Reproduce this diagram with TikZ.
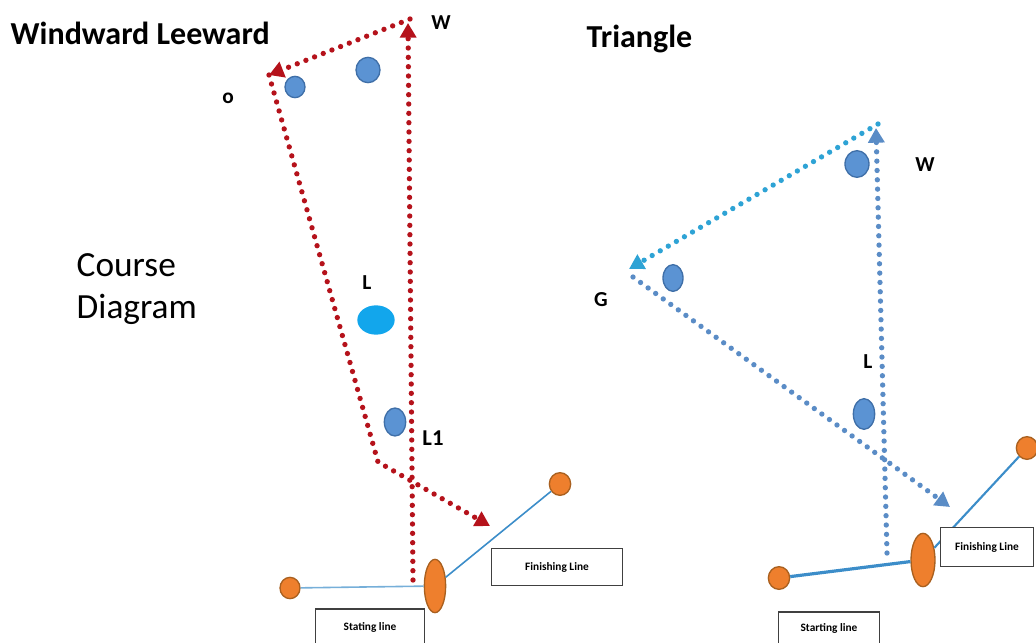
\documentclass[tikz,border=0pt]{standalone}
\usepackage{fontspec}
\setmainfont{Carlito}
\usetikzlibrary{arrows.meta,shapes.geometric}
\definecolor{courseRed}{HTML}{B5121B}
\definecolor{courseCyan}{HTML}{2EA3D5}
\definecolor{courseSteel}{HTML}{5A8CC6}
\definecolor{buoyBlue}{HTML}{5B93D3}
\definecolor{buoyEdge}{HTML}{3F6FA8}
\definecolor{buoyCyan}{HTML}{12A6EC}
\definecolor{pinOrange}{HTML}{EE7F2D}
\definecolor{pinEdge}{HTML}{A9601F}
\definecolor{lineBlue}{HTML}{3C8DC9}
\begin{document}
\begin{tikzpicture}[x=0.75pt,y=-0.75pt,
  title/.style={anchor=west,font=\bfseries\fontsize{24}{28}\selectfont},
  tag/.style={font=\bfseries\fontsize{16}{19}\selectfont},
  buoy/.style={ellipse,draw=buoyEdge,line width=1pt,fill=buoyBlue,inner sep=0pt},
  pin/.style={ellipse,draw=pinEdge,line width=1pt,fill=pinOrange,inner sep=0pt},
  linebox/.style={draw=black!75,fill=white,line width=0.8pt,inner sep=0pt,
    font=\bfseries\fontsize{8.5}{10}\selectfont},
  route/.style={line width=4pt,line cap=round,dash pattern=on 0pt off 7pt,
    -{Triangle[length=11pt,width=12pt]}},
  startline/.style={draw=lineBlue,line width=1.2pt}]
\useasboundingbox (0,0) rectangle (1036,643);

\node[title] (wlTitle) at (6,33) {Windward Leeward};
\node[title] (triTitle) at (582,39) {Triangle};
\node[anchor=west,align=left,font=\fontsize{26.5}{31.5}\selectfont] (courseTitle) at (72,289) {Course\\Diagram};

\coordinate (wlTop) at (410,19);
\coordinate (wlO) at (269,75);
\coordinate (wlBend) at (378,462);
\coordinate (wlEnd) at (490,526);
\coordinate (wlFoot) at (413,580);
\coordinate (wlUp) at (408,23);
\draw[route,color=courseRed] (wlFoot) -- (wlUp);
\draw[route,color=courseRed] (wlTop) -- (wlO);
\draw[route,color=courseRed] (wlO) -- (wlBend) -- (wlEnd);

\coordinate (trW) at (878,124);
\coordinate (trG) at (629,269);
\coordinate (trGo) at (633,277);
\coordinate (trEnd) at (950,507);
\coordinate (trFoot) at (887,553);
\coordinate (trUp) at (876,128);
\draw[route,color=courseCyan] (trW) -- (trG);
\draw[route,color=courseSteel] (trGo) -- (trEnd);
\draw[route,color=courseSteel] (trFoot) -- (trUp);

\node[tag] (wlW) at (441,23) {W};
\node[tag] (wlOtag) at (228,98) {o};
\node[tag] (wlL) at (367,283) {L};
\node[tag,font=\bfseries\fontsize{17}{20}\selectfont] (wlL1) at (433,438) {L1};
\node[tag] (trWtag) at (925,165) {W};
\node[tag] (trGtag) at (601,300) {G};
\node[tag] (trL) at (868,362) {L};

\node[buoy,minimum width=15pt,minimum height=16pt] (wlMarkO) at (295,87) {};
\node[buoy,minimum width=18pt,minimum height=19pt] (wlMarkW) at (368,70) {};
\node[buoy,draw=buoyCyan,fill=buoyCyan,minimum width=27pt,minimum height=21pt] (wlMarkL) at (376,320) {};
\node[buoy,minimum width=16pt,minimum height=21pt] (wlMarkL1) at (395,422) {};
\node[buoy,minimum width=18pt,minimum height=20pt] (trMarkW) at (857,164) {};
\node[buoy,minimum width=15pt,minimum height=20pt] (trMarkG) at (673,278) {};
\node[buoy,minimum width=16pt,minimum height=23pt] (trMarkL) at (864,414) {};

\node[pin,minimum width=15pt,minimum height=16pt] (wlStartPin) at (290,588) {};
\node[pin,minimum width=16pt,minimum height=40pt] (wlGate) at (435,586) {};
\node[pin,minimum width=16pt,minimum height=17pt] (wlFinishPin) at (560,484) {};
\draw[startline,draw=lineBlue!70] (wlStartPin) -- (wlGate);
\draw[startline] (wlGate) -- (wlFinishPin);

\node[pin,minimum width=16pt,minimum height=17pt] (trStartPin) at (779,578) {};
\node[pin,minimum width=18pt,minimum height=40pt] (trGate) at (923,560) {};
\node[pin,minimum width=16pt,minimum height=17pt] (trFinishPin) at (1027,448) {};
\draw[startline,line width=2.4pt] (trStartPin) -- (trGate);
\draw[startline,line width=1.6pt] (trGate) -- (trFinishPin);

\node[linebox,minimum width=98pt,minimum height=28pt] (wlFinishBox) at (557,567) {Finishing Line};
\node[linebox,minimum width=82pt,minimum height=27pt] (wlStartBox) at (370,627) {Stating line};
\node[linebox,minimum width=70pt,minimum height=29pt] (trFinishBox) at (987,547) {Finishing Line};
\node[linebox,minimum width=76pt,minimum height=24pt] (trStartBox) at (829,628) {Starting line};
\end{tikzpicture}
\end{document}
